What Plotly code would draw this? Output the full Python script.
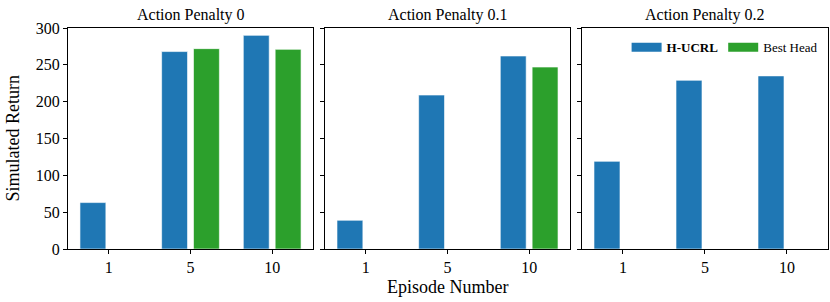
import plotly.graph_objects as go

episodes = ["1", "5", "10"]
penalties = ["Action Penalty 0", "Action Penalty 0.1", "Action Penalty 0.2"]
hucrl = [
    [63, 268, 290],
    [39, 209, 262],
    [119, 229, 235],
]
best_head = [
    [None, 272, 271],
    [None, None, 247],
    [None, None, None],
]

BLUE = "#1f77b4"
GREEN = "#2ca02c"
FONT = "Liberation Serif, Times New Roman, serif"

fig = go.Figure()
domains = [[0.0, 0.3224], [0.3382, 0.6605], [0.6763, 1.0]]
W = 0.317
OFF = 0.195
for i in range(3):
    xa = "x" if i == 0 else f"x{i+1}"
    ya = "y" if i == 0 else f"y{i+1}"
    fig.add_trace(go.Bar(
        x=episodes, y=hucrl[i], name="<b>H-UCRL</b>", marker_color=BLUE,
        marker_line=dict(color="rgba(255,255,255,0.6)", width=1),
        width=W, offset=-OFF - W / 2, xaxis=xa, yaxis=ya,
        showlegend=False,
    ))
    fig.add_trace(go.Bar(
        x=episodes, y=best_head[i], name="Best Head", marker_color=GREEN,
        marker_line=dict(color="rgba(255,255,255,0.6)", width=1),
        width=W, offset=OFF - W / 2, xaxis=xa, yaxis=ya,
        showlegend=False,
    ))

# legend entries (wide rectangular patches like the reference)
fig.add_trace(go.Scatter(x=[None], y=[None], mode="lines", name="<b>H-UCRL</b>",
                         line=dict(color=BLUE, width=9), xaxis="x3", yaxis="y3",
                         legendrank=1, hoverinfo="skip"))
fig.add_trace(go.Scatter(x=[None], y=[None], mode="lines", name="Best Head",
                         line=dict(color=GREEN, width=9), xaxis="x3", yaxis="y3",
                         legendrank=2, hoverinfo="skip"))

axis_common = dict(showline=True, linecolor="black", linewidth=1.3, mirror=True,
                   ticks="outside", ticklen=4, tickwidth=1.2, tickcolor="black",
                   showgrid=False, zeroline=False, automargin=False,
                   tickfont=dict(family=FONT, size=16, color="black"))
layout = dict(
    width=830, height=302,
    margin=dict(l=68, r=2, t=28, b=53, autoexpand=False),
    plot_bgcolor="white", paper_bgcolor="white",
    barmode="overlay",
    font=dict(family=FONT, color="black"),
    legend=dict(x=0.735, y=0.98, xanchor="left", yanchor="top",
                orientation="h", bgcolor="rgba(0,0,0,0)",
                font=dict(family=FONT, size=13, color="black"),
                tracegroupgap=0),
    showlegend=True,
)
for i in range(3):
    xk = "xaxis" if i == 0 else f"xaxis{i+1}"
    yk = "yaxis" if i == 0 else f"yaxis{i+1}"
    layout[xk] = dict(domain=domains[i], type="category", range=[-0.5, 2.5],
                      anchor="y" if i == 0 else f"y{i+1}", **axis_common)
    layout[yk] = dict(domain=[0, 1], range=[0, 300], tickvals=[0, 50, 100, 150, 200, 250, 300],
                      anchor="x" if i == 0 else f"x{i+1}",
                      showticklabels=(i == 0), **axis_common)

annotations = []
for i in range(3):
    annotations.append(dict(text=penalties[i], x=(domains[i][0] + domains[i][1]) / 2, y=1.0,
                            xref="paper", yref="paper", xanchor="center", yanchor="bottom",
                            yshift=2, showarrow=False,
                            font=dict(family=FONT, size=16, color="black")))
annotations.append(dict(text="Episode Number", x=(domains[1][0] + domains[1][1]) / 2, y=0,
                        xref="paper", yref="paper", xanchor="center", yanchor="top",
                        yshift=-26, showarrow=False,
                        font=dict(family=FONT, size=18, color="black")))
annotations.append(dict(text="Simulated Return", x=0, y=0.5, xref="paper", yref="paper",
                        xanchor="center", yanchor="middle", xshift=-56, textangle=-90,
                        showarrow=False, font=dict(family=FONT, size=18, color="black")))
layout["annotations"] = annotations
fig.update_layout(**layout)
fig.write_html("out.html", config={"displayModeBar": False},
               post_script="document.body.style.margin='0';")
